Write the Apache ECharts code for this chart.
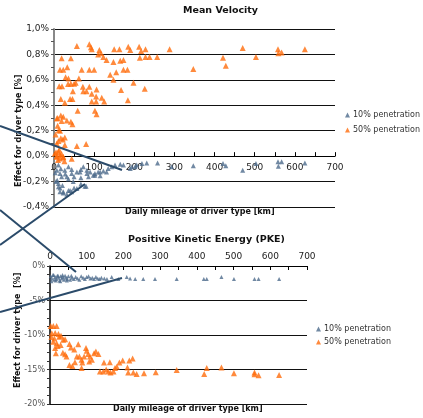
<!DOCTYPE html>
<html><head><meta charset="utf-8">
<script src="https://cdn.jsdelivr.net/npm/echarts@6/dist/echarts.min.js"></script>
<style>html,body{margin:0;padding:0;background:#fff}#c{width:423px;height:418px}</style>
</head><body><div id="c"></div>
<script>
// ---- Mean Velocity, 50% penetration ----
const mvX50 = [57,88,94,92,113,110,117,123,131,150,163,148,165,173,185,190,212,217,228,214,228,238,257,288,19,42,15,23,33,69,88,100,29,36,62,13,20,35,42,50,54,47,72,73,81,88,94,106,105,94,105,119,125,140,148,155,173,183,198,167,184,226,17,27,40,46,59,102,106,7,9,17,23,19,32,42,46,12,15,17,11,22,27,57,80,7,15,23,44,2,11,19,23,7,15,27,7,5,10,13,4,9,26,421,428,470,503,558,559,567,625,347];
const mvY50 = [0.866,0.88,0.84,0.856,0.835,0.80,0.81,0.78,0.756,0.84,0.84,0.74,0.75,0.756,0.86,0.835,0.86,0.827,0.84,0.774,0.78,0.78,0.78,0.84,0.77,0.77,0.68,0.68,0.70,0.68,0.68,0.68,0.62,0.61,0.61,0.55,0.55,0.567,0.57,0.57,0.577,0.51,0.546,0.51,0.51,0.546,0.49,0.525,0.47,0.43,0.43,0.46,0.43,0.64,0.60,0.66,0.68,0.68,0.577,0.52,0.44,0.53,0.45,0.42,0.45,0.45,0.357,0.357,0.33,0.297,0.30,0.32,0.31,0.276,0.28,0.27,0.25,0.205,0.20,0.14,0.12,0.13,0.147,0.08,0.095,0.0,0.01,-0.01,-0.02,0.02,0.034,0.016,-0.005,-0.005,-0.018,0.087,0.10,0.03,-0.03,0.05,0.17,0.24,-0.04,0.774,0.71,0.85,0.78,0.84,0.81,0.816,0.84,0.685];
// ---- Mean Velocity, 10% penetration ----
const mvX10 = [7,15,5,11,15,23,36,44,57,80,32,44,65,82,102,115,131,152,173,194,206,219,231,258,293,347,11,17,27,36,44,57,67,73,82,90,102,110,123,135,144,165,190,202,11,15,23,32,40,50,67,77,19,36,50,67,86,98,115,3,8,21,28,48,421,428,470,503,558,559,567,625];
const mvY10 = [-0.11,-0.136,-0.20,-0.24,-0.28,-0.29,-0.27,-0.28,-0.255,-0.236,-0.163,-0.136,-0.124,-0.136,-0.15,-0.124,-0.124,-0.07,-0.07,-0.084,-0.07,-0.058,-0.053,-0.053,-0.084,-0.076,-0.07,-0.10,-0.11,-0.084,-0.105,-0.124,-0.105,-0.084,-0.11,-0.124,-0.136,-0.124,-0.116,-0.097,-0.084,-0.063,-0.097,-0.084,-0.215,-0.25,-0.28,-0.30,-0.27,-0.25,-0.22,-0.236,-0.163,-0.18,-0.163,-0.17,-0.163,-0.15,-0.155,-0.13,-0.19,-0.23,-0.14,-0.20,-0.058,-0.076,-0.11,-0.058,-0.045,-0.08,-0.045,-0.053];
// ---- PKE, 50% penetration ----
const pkX50 = [2,9,18,5,14,23,25,9,18,14,16,29,36,41,35,41,45,53,57,66,77,53,61,68,73,80,86,88,86,93,98,100,104,109,107,114,120,125,132,136,147,145,153,159,163,165,173,177,182,189,198,211,216,213,225,227,236,256,288,345,420,427,467,501,557,557,568,624,4,12,21,30];
const pkY50 = [-8.7,-8.7,-8.7,-9.75,-9.7,-9.85,-10.25,-10.97,-11.2,-11.9,-12.65,-11.45,-10.7,-10.6,-12.56,-12.8,-13.1,-11.3,-11.8,-12.1,-11.35,-14.35,-14.5,-13.96,-13.1,-13.1,-13.6,-14.0,-14.8,-13.1,-11.9,-12.3,-12.75,-13.1,-13.85,-13.6,-12.65,-12.4,-12.75,-15.3,-14.0,-15.3,-15.0,-15.3,-13.96,-15.45,-15.3,-14.8,-14.6,-14.0,-13.7,-14.7,-13.7,-15.45,-13.4,-15.45,-15.65,-15.56,-15.4,-15.07,-15.65,-14.8,-14.7,-15.55,-15.45,-15.7,-15.85,-15.8,-10.3,-10.5,-11.6,-10.1];
// ---- PKE, 10% penetration ----
const pkX10 = [2,5,8,11,14,17,20,23,26,29,32,35,38,41,44,47,50,55,60,65,70,75,80,85,90,95,100,105,110,115,120,125,130,135,140,148,155,168,186,209,218,232,254,286,345,419,427,467,501,557,568,624,4,10,16,22,28,34,46,58];
const pkY10 = [-1.5,-1.8,-1.3,-2.0,-1.6,-1.9,-1.4,-1.7,-2.1,-1.5,-1.8,-1.6,-2.0,-1.4,-1.7,-1.9,-1.5,-2.0,-1.7,-1.9,-1.6,-1.8,-2.0,-1.5,-1.7,-1.9,-1.6,-1.5,-1.8,-1.7,-1.9,-1.6,-1.8,-1.9,-1.7,-1.8,-1.9,-1.6,-1.9,-1.6,-1.8,-1.9,-1.9,-1.9,-1.9,-1.9,-1.9,-1.6,-1.9,-1.9,-1.9,-1.9,-2.2,-1.3,-2.1,-1.4,-2.2,-1.3,-2.1,-1.4];

const zip = (xs, ys) => xs.map((x, i) => [x, ys[i]]);
const BLUE = '#4d6b8c', ORANGE = '#ff6d0d', LINE = '#2b4b6a';
const FONT = 'DejaVu Sans';
const TOP_H = 178, MV_MIN = -0.4, MV_MAX = 1.0;
const zeroOffset = -TOP_H * (0 - MV_MIN) / (MV_MAX - MV_MIN);

const chart = echarts.init(document.getElementById('c'), null, {renderer: 'canvas'});
chart.setOption({
  animation: false,
  textStyle: {fontFamily: FONT},
  grid: [
    {left: 54, top: 29, width: 281, height: TOP_H},
    {left: 50, top: 266, width: 257, height: 138}
  ],
  xAxis: [
    {gridIndex: 0, type: 'value', min: 0, max: 700, interval: 100, position: 'bottom', offset: zeroOffset,
     axisLine: {onZero: false, lineStyle: {color: '#000', width: 1.2}},
     axisTick: {inside: true, length: 4, lineStyle: {color: '#000'}},
     minorTick: {show: true, splitNumber: 2, length: 4, lineStyle: {color: '#000'}},
     axisLabel: {fontSize: 9, color: '#222', margin: 7, fontFamily: FONT},
     splitLine: {show: false}},
    {gridIndex: 1, type: 'value', min: 0, max: 700, interval: 100, position: 'top',
     axisLine: {lineStyle: {color: '#000', width: 1.2}},
     axisTick: {inside: true, length: 4, lineStyle: {color: '#000'}},
     minorTick: {show: true, splitNumber: 2, length: 4, lineStyle: {color: '#000'}},
     axisLabel: {fontSize: 9, color: '#222', margin: 5, fontFamily: FONT},
     splitLine: {show: false}}
  ],
  yAxis: [
    {gridIndex: 0, type: 'value', min: MV_MIN, max: MV_MAX, interval: 0.2,
     axisLine: {show: true, lineStyle: {color: '#888', width: 2}},
     axisTick: {show: true, length: 3, lineStyle: {color: '#555'}},
     minorTick: {show: true, splitNumber: 2, length: 3, lineStyle: {color: '#555'}},
     axisLabel: {fontSize: 9, color: '#222', margin: 5, fontFamily: FONT,
       formatter: v => v.toFixed(1).replace('.', ',') + '%'},
     splitLine: {show: true, lineStyle: {color: '#111', width: 1.2}}},
    {gridIndex: 1, type: 'value', min: -20, max: 0, interval: 5,
     axisLine: {show: true, lineStyle: {color: '#000', width: 1.5}},
     axisTick: {show: true, length: 3, lineStyle: {color: '#333'}},
     minorTick: {show: true, splitNumber: 4, length: 3, lineStyle: {color: '#333'}},
     axisLabel: {fontSize: 8, color: '#555', margin: 5, fontFamily: FONT,
       formatter: v => v + '%'},
     splitLine: {show: true, lineStyle: {color: '#111', width: 1.2}}}
  ],
  legend: [
    {orient: 'vertical', left: 345, top: 111, itemWidth: 5, itemHeight: 5, itemGap: 7, padding: 0,
     icon: 'triangle', textStyle: {fontSize: 8, color: '#333', fontFamily: FONT, padding: [0, 0, 0, -2]},
     data: ['10% penetration', '50% penetration']},
    {orient: 'vertical', left: 316, top: 325, itemWidth: 5, itemHeight: 5, itemGap: 5, padding: 0,
     icon: 'triangle', textStyle: {fontSize: 8, color: '#333', fontFamily: FONT, padding: [0, 0, 0, -2]},
     data: ['10% penetration', '50% penetration']}
  ],
  series: [
    {name: '50% penetration', type: 'scatter', xAxisIndex: 0, yAxisIndex: 0, symbol: 'triangle', symbolSize: 6,
     itemStyle: {color: ORANGE}, data: zip(mvX50, mvY50)},
    {name: '10% penetration', type: 'scatter', xAxisIndex: 0, yAxisIndex: 0, symbol: 'triangle', symbolSize: 5,
     itemStyle: {color: BLUE}, data: zip(mvX10, mvY10)},
    {name: '50% penetration', type: 'scatter', xAxisIndex: 1, yAxisIndex: 1, symbol: 'triangle', symbolSize: 6,
     itemStyle: {color: ORANGE}, data: zip(pkX50, pkY50)},
    {name: '10% penetration', type: 'scatter', xAxisIndex: 1, yAxisIndex: 1, symbol: 'triangle', symbolSize: 4,
     itemStyle: {color: BLUE}, data: zip(pkX10, pkY10)}
  ],
  graphic: [
    {type: 'text', left: 183, top: 6, style: {text: 'Mean Velocity', font: 'bold 9.5px ' + FONT, fill: '#111'}},
    {type: 'text', left: 128, top: 235, style: {text: 'Positive Kinetic Energy (PKE)', font: 'bold 9.5px ' + FONT, fill: '#111'}},
    {type: 'text', left: 125, top: 208, style: {text: 'Daily mileage of driver type [km]', font: 'bold 8px ' + FONT, fill: '#111'}},
    {type: 'text', left: 113, top: 405, style: {text: 'Daily mileage of driver type [km]', font: 'bold 8px ' + FONT, fill: '#111'}},
    {type: 'text', x: 15, y: 187, rotation: Math.PI / 2, style: {text: 'Effect for driver type [%]', font: 'bold 8px ' + FONT, fill: '#111'}},
    {type: 'text', x: 14, y: 388, rotation: Math.PI / 2, style: {text: 'Effect for driver type  [%]', font: 'bold 8px ' + FONT, fill: '#111'}},
    {type: 'line', shape: {x1: 0, y1: 126, x2: 122, y2: 170}, style: {stroke: LINE, lineWidth: 2}, z: 100},
    {type: 'line', shape: {x1: 0, y1: 245, x2: 85, y2: 184}, style: {stroke: LINE, lineWidth: 2}, z: 100},
    {type: 'line', shape: {x1: 0, y1: 210, x2: 76, y2: 272}, style: {stroke: LINE, lineWidth: 2}, z: 100},
    {type: 'line', shape: {x1: 0, y1: 312, x2: 122, y2: 278}, style: {stroke: LINE, lineWidth: 2}, z: 100}
  ]
});
</script></body></html>
